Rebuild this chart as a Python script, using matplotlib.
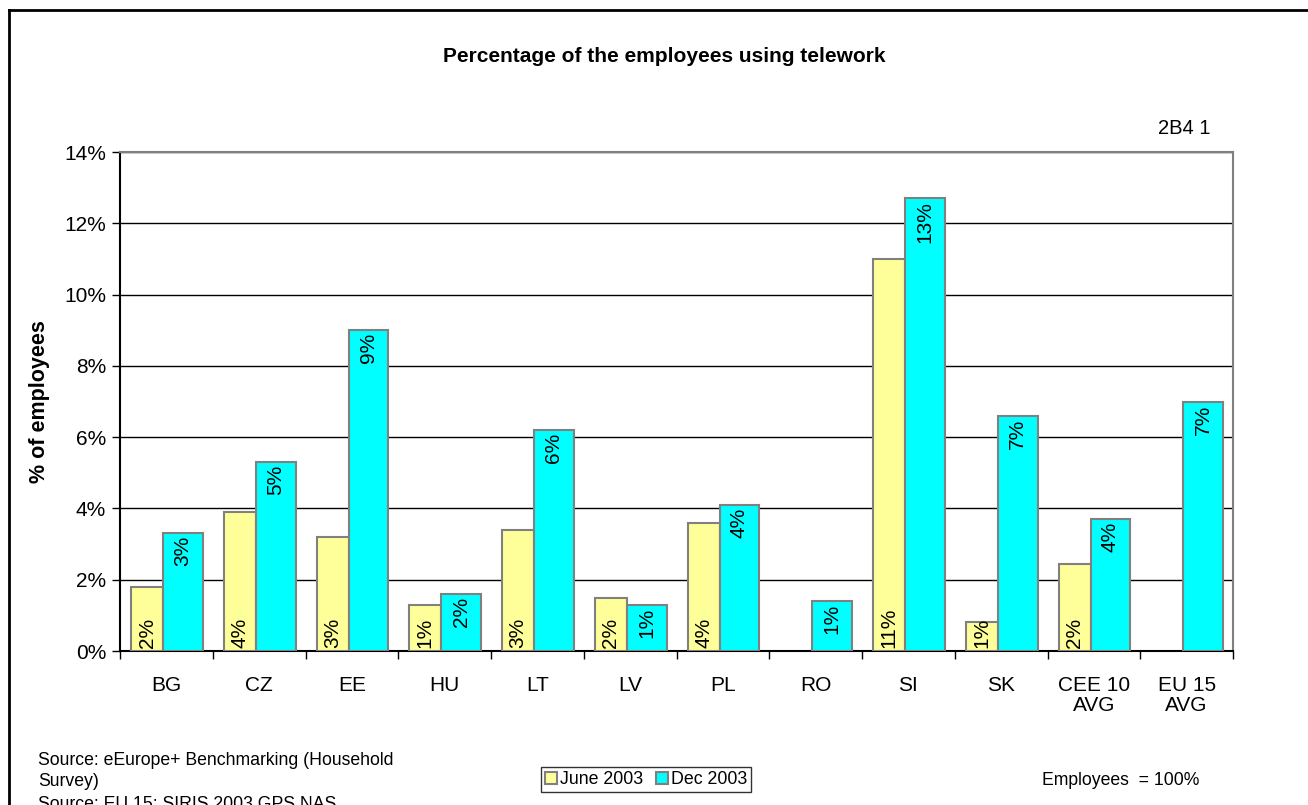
import numpy as np
import matplotlib.pyplot as plt
from matplotlib.patches import Patch

plt.rcParams['font.family'] = ['Liberation Sans', 'DejaVu Sans']

countries = ['BG', 'CZ', 'EE', 'HU', 'LT', 'LV', 'PL', 'RO', 'SI', 'SK',
             'CEE 10\nAVG', 'EU 15\nAVG']
june_2003 = [1.8, 3.9, 3.2, 1.3, 3.4, 1.5, 3.6, np.nan, 11.0, 0.8, 2.45, np.nan]
dec_2003 = [3.3, 5.3, 9.0, 1.6, 6.2, 1.3, 4.1, 1.4, 12.7, 6.6, 3.7, 7.0]

fig = plt.figure(figsize=(13.08, 8.05), dpi=100)
ax = fig.add_axes([120 / 1308, 1 - 651 / 805, 1113 / 1308, 499 / 805])

x = np.arange(len(countries))
w_june = 0.345
w_dec = 0.43
edge = '#808080'
ax.bar(x - 0.381, june_2003, width=w_june, align='edge', color='#FFFF99',
       edgecolor=edge, linewidth=1.5, zorder=3)
ax.bar(x - 0.036, dec_2003, width=w_dec, align='edge', color='#00FFFF',
       edgecolor=edge, linewidth=1.5, zorder=3)

# value labels, rotated like the Excel original
for xi, v in zip(x, june_2003):
    if np.isnan(v):
        continue
    ax.text(xi - 0.381 + w_june / 2, 0.08, f'{v:.0f}%', rotation=90,
            ha='center', va='bottom', fontsize=15, zorder=4)
for xi, v in zip(x, dec_2003):
    ax.text(xi - 0.036 + w_dec / 2, v - 0.08, f'{v:.0f}%', rotation=90,
            ha='center', va='top', fontsize=15, zorder=4)

ax.set_xlim(-0.5, len(countries) - 0.5)
ax.set_ylim(0, 14)
ax.set_yticks(np.arange(0, 15, 2))
ax.set_yticklabels([f'{t}%' for t in range(0, 15, 2)], fontsize=15)
ax.yaxis.grid(True, color='black', linewidth=1, zorder=0)
ax.set_axisbelow(True)

ax.set_xticks(x)
ax.set_xticklabels(countries, fontsize=15, linespacing=1.05)
ax.tick_params(axis='x', length=0, pad=18)
ax.set_xticks(np.arange(-0.5, len(countries)), minor=True)
ax.tick_params(axis='x', which='minor', length=6, width=1, direction='out')
ax.tick_params(axis='y', length=6, width=1, direction='out', pad=4)

for s in ['top', 'right']:
    ax.spines[s].set_color(edge)
    ax.spines[s].set_linewidth(1.5)
for s in ['left', 'bottom']:
    ax.spines[s].set_color('black')
    ax.spines[s].set_linewidth(1.5)

ax.set_ylabel('% of employees', fontsize=15.5, fontweight='bold', labelpad=10)

fig.text(664 / 1308, 1 - 56 / 805, 'Percentage of the employees using telework',
         ha='center', va='center', fontsize=15, fontweight='bold')
fig.text(1211 / 1308, 1 - 128 / 805, '2B4 1', ha='right', va='center', fontsize=14.5)

fig.text(38 / 1308, 1 - 760 / 805, 'Source: eEurope+ Benchmarking (Household',
         ha='left', va='center', fontsize=12.7)
fig.text(38 / 1308, 1 - 781 / 805, 'Survey)', ha='left', va='center', fontsize=12.7)
fig.text(38 / 1308, 1 - 804 / 805, 'Source: EU 15: SIRIS 2003 GPS NAS',
         ha='left', va='center', fontsize=12.7)
fig.text(1042 / 1308, 1 - 780 / 805, 'Employees  = 100%', ha='left', va='center',
         fontsize=12.7)

handles = [Patch(facecolor='#FFFF99', edgecolor=edge, linewidth=1.5),
           Patch(facecolor='#00FFFF', edgecolor=edge, linewidth=1.5)]
leg = fig.legend(handles, ['June 2003', 'Dec 2003'], loc='center',
                 bbox_to_anchor=(646 / 1308, 1 - 779.5 / 805), ncol=2,
                 fontsize=12.8, frameon=True, fancybox=False,
                 handlelength=0.7, handleheight=0.7, handletextpad=0.15,
                 columnspacing=0.7, borderpad=0.25, borderaxespad=0)
leg.get_frame().set_edgecolor('black')
leg.get_frame().set_linewidth(1)

# chart-area border (left and top visible in the crop)
fig.add_artist(plt.Line2D([9 / 1308, 9 / 1308], [0, 1 - 10 / 805], color='black',
                          linewidth=2, transform=fig.transFigure))
fig.add_artist(plt.Line2D([9 / 1308, 1], [1 - 10 / 805, 1 - 10 / 805], color='black',
                          linewidth=2, transform=fig.transFigure))

fig.savefig('out.png', dpi=100)
